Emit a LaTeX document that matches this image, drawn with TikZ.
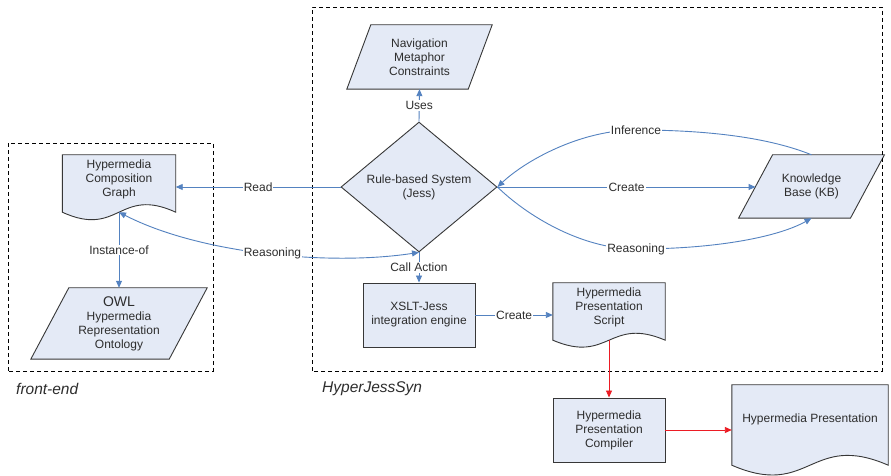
\documentclass[tikz,border=0pt]{standalone}
\usepackage{fontspec}
\setmainfont{Liberation Sans}
\usetikzlibrary{arrows.meta,shapes.geometric,backgrounds}

\definecolor{boxfill}{RGB}{228,234,246}
\definecolor{boxline}{RGB}{55,55,55}
\definecolor{textgray}{RGB}{45,45,45}
\definecolor{linkblue}{RGB}{84,130,192}
\definecolor{linkred}{RGB}{236,28,36}

% document outline: flat top, wavy bottom below the text area
\newcommand{\docoutline}[3]{%
  \draw[outline] (#1.north west) -- (#1.north east) -- ([yshift=-#2]#1.south east)
    .. controls ([yshift=#3-#2]#1.south) and ([yshift=-#3-#2]#1.south) .. ([yshift=-#2]#1.south west) -- cycle;}
% data outline: the node rectangle slanted to a parallelogram
\newcommand{\slantoutline}[2]{%
  \draw[outline] ([xshift=#2]#1.north west) -- ([xshift=#2]#1.north east)
    -- ([xshift=-#2]#1.south east) -- ([xshift=-#2]#1.south west) -- cycle;}

\tikzset{
  outline/.style={draw=boxline, fill=boxfill, line width=0.9pt},
  shell/.style={inner sep=0pt, align=center},
  box/.style={outline, shell, minimum width=112, minimum height=64},
  decision/.style={outline, shell, diamond, minimum width=156, minimum height=88},
  group/.style={draw=black, line width=0.8pt, dash pattern=on 4pt off 3pt},
  grouptext/.style={font=\fontsize{15.5}{17}\selectfont\itshape, inner sep=0pt},
  link/.style={draw=linkblue, line width=0.9pt, -{Triangle[length=7pt,width=6pt]}},
  redlink/.style={draw=linkred, line width=0.9pt, -{Triangle[length=7pt,width=6pt]}},
  linktext/.style={fill=white, inner sep=1pt, text=textgray}
}

\begin{document}
\begin{tikzpicture}[x=1pt, y=1pt, font=\fontsize{12}{14}\selectfont, text=textgray]
  \useasboundingbox (0,0) rectangle (891,476);

  \draw[group] (8,105) rectangle (213,333);
  \draw[group] (312,105) rectangle (882,469);
  \node[grouptext, anchor=west] (frontend) at (16,87) {front-end};
  \node[grouptext, anchor=west] (hjs) at (322,87) {HyperJessSyn};

  \node[shell, minimum width=113, minimum height=48] (graph) at (119,297) {Hypermedia\\Composition\\Graph};
  \node[shell, minimum width=138, minimum height=71] (owl) at (119,152.5)
    {{\fontsize{14}{15}\selectfont OWL}\\Hypermedia\\Representation\\Ontology};
  \node[shell, minimum width=121, minimum height=64] (nav) at (419.5,419) {Navigation\\Metaphor\\Constraints};
  \node[decision] (rule) at (419,289) {Rule-based System\\(Jess)};
  \node[shell, minimum width=111.5, minimum height=63] (kb) at (811.5,289.5) {Knowledge\\Base (KB)};
  \node[box] (xslt) at (419,161) {XSLT-Jess\\integration engine};
  \node[shell, minimum width=112, minimum height=48] (script) at (609,169) {Hypermedia\\Presentation\\Script};
  \node[box] (compiler) at (609,46) {Hypermedia\\Presentation\\Compiler};
  \node[shell, minimum width=156, minimum height=68] (show) at (810,57) {Hypermedia Presentation};

  \begin{scope}[on background layer]
    \fill[white] (0,0) rectangle (891,476);
    \docoutline{graph}{9}{26}
    \slantoutline{owl}{19}
    \slantoutline{nav}{12}
    \slantoutline{kb}{17}
    \docoutline{script}{9}{24}
    \docoutline{show}{12}{34}
  \end{scope}

  \draw[link] (rule.north) -- node[linktext] {Uses} (nav.south);
  \draw[link] (rule.west) -- node[linktext] {Read} (rule.west -| graph.east);
  \draw[link] (rule.east) -- node[linktext] {Create} (rule.east -| kb.west);
  \draw[link] (kb.north) .. controls (770,338) and (710,346) .. (636,346) node[linktext] {Inference}
    .. controls (580,346) and (525,315) .. (rule.east);
  \draw[link] (rule.east) .. controls (525,262) and (580,227) .. (636,227) node[linktext] {Reasoning}
    .. controls (720,227) and (780,240) .. (kb.south);
  \draw[link, {Triangle[length=7pt,width=6pt]}-{Triangle[length=7pt,width=6pt]}]
    ([yshift=-9pt]graph.south) .. controls (200,222) and (330,210) .. node[linktext, pos=0.52] {Reasoning} (rule.south);
  \draw[link] ([yshift=-9pt]graph.south) -- node[linktext] {Instance-of} (owl.north);
  \draw[link] (rule.south) -- node[linktext] {Call Action} (xslt.north);
  \draw[link] (xslt.east) -- node[linktext] {Create} (xslt.east -| script.west);

  \draw[redlink] ([yshift=-9pt]script.south) -- (compiler.north);
  \draw[redlink] (compiler.east) -- (compiler.east -| show.west);
\end{tikzpicture}
\end{document}
